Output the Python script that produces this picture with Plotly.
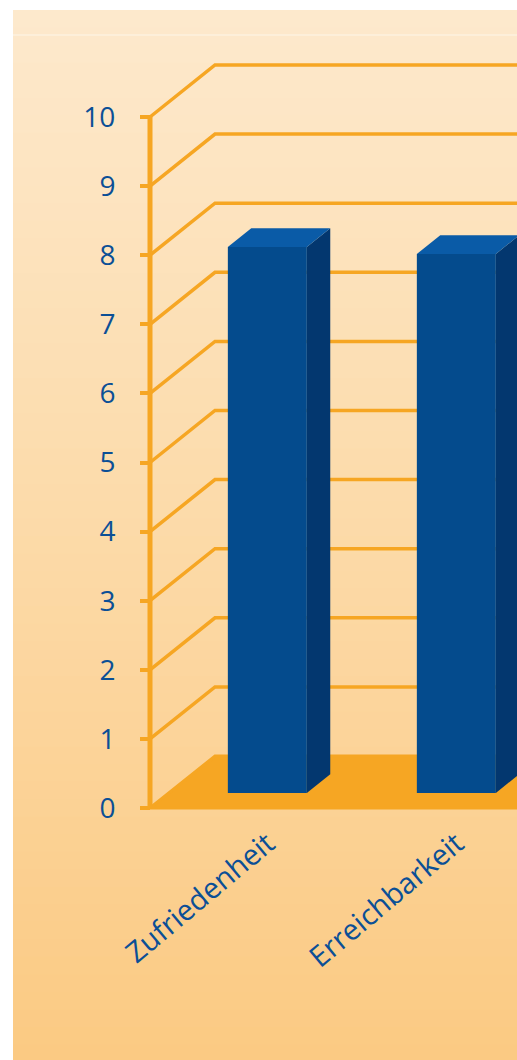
import plotly.graph_objects as go

# ---- data ----
categories = ["Zufriedenheit", "Erreichbarkeit"]
values = [7.9, 7.8]
y_ticks = list(range(0, 11))

# ---- style / geometry ----
FONT = "Open Sans"
BLUE_TXT = "#0b4f96"
ORANGE = "#f6a623"
FRONT = "#044b8d"
SIDE = "#03376f"
TOP = "#0a5ba7"

W, H = 517, 1060

px_per_x = 189.0
px_per_y = 69.1
ml, mt = 140, 40
mb = H - 820
axis_px = 150
zero_py = 808
cat0_px = 248.5

x_start = 0.5 - (cat0_px - ml) / px_per_x
x_end = x_start + (W - ml) / px_per_x
x0 = 0.5 - (cat0_px - axis_px) / px_per_x
y_top = (zero_py - mt) / px_per_y
y_bot = -((H - mb) - zero_py) / px_per_y
ddx = 65 / px_per_x
ddy = 52 / px_per_y
bw = 79 / px_per_x
f_front, f_back = 0.29, 0.65
positions = [0.5 + i for i in range(len(categories))]
xmax = x_end + 0.2

fig = go.Figure()

# floor
fig.add_trace(go.Scatter(
    x=[x0, x0 + ddx, xmax, xmax, x0],
    y=[0, ddy, ddy, 0, 0],
    fill="toself", fillcolor=ORANGE, mode="lines",
    line=dict(color=ORANGE, width=3), hoverinfo="skip", showlegend=False))

# back wall grid lines
gx, gy = [], []
for v in y_ticks[1:]:
    gx += [x0, x0 + ddx, xmax, None]
    gy += [v, v + ddy, v + ddy, None]
fig.add_trace(go.Scatter(x=gx, y=gy, mode="lines",
                         line=dict(color=ORANGE, width=3.5),
                         hoverinfo="skip", showlegend=False))

# vertical axis line
fig.add_trace(go.Scatter(x=[x0, x0], y=[y_ticks[0], y_ticks[-1]], mode="lines",
                         line=dict(color=ORANGE, width=5),
                         hoverinfo="skip", showlegend=False))

# 3D bars
for c, v in zip(positions, values):
    l = c - bw / 2
    r = c + bw / 2
    fx, fy = f_front * ddx, f_front * ddy
    bx, by = f_back * ddx, f_back * ddy
    fig.add_trace(go.Scatter(
        x=[r + fx, r + bx, r + bx, r + fx, r + fx],
        y=[fy, by, v + by, v + fy, fy],
        fill="toself", fillcolor=SIDE, mode="lines", line=dict(width=0, color=SIDE),
        hoverinfo="skip", showlegend=False))
    fig.add_trace(go.Scatter(
        x=[l + fx, r + fx, r + bx, l + bx, l + fx],
        y=[v + fy, v + fy, v + by, v + by, v + fy],
        fill="toself", fillcolor=TOP, mode="lines", line=dict(width=0, color=TOP),
        hoverinfo="skip", showlegend=False))
    fig.add_trace(go.Scatter(
        x=[l + fx, r + fx, r + fx, l + fx, l + fx],
        y=[fy, fy, v + fy, v + fy, fy],
        fill="toself", fillcolor=FRONT, mode="lines", line=dict(width=0, color=FRONT),
        hoverinfo="skip", showlegend=False))

# background gradient (paper coords)
def pxx(px):
    return (px - ml) / (W - ml)

def pxy(py):
    return ((H - mb) - py) / ((H - mb) - mt)

top_c = (253, 233, 204)
mid_c = (252, 218, 168)
bot_c = (251, 202, 131)
shapes = []
n = 60
y_a, y_b = 10, 1062
for i in range(n):
    t = i / (n - 1)
    if t < 0.5:
        k = t / 0.5
        col = tuple(round(top_c[j] + (mid_c[j] - top_c[j]) * k) for j in range(3))
    else:
        k = (t - 0.5) / 0.5
        col = tuple(round(mid_c[j] + (bot_c[j] - mid_c[j]) * k) for j in range(3))
    ya = y_a + (y_b - y_a) * i / n
    yb = y_a + (y_b - y_a) * (i + 1) / n + 1
    shapes.append(dict(type="rect", xref="paper", yref="paper", layer="below",
                       x0=pxx(13), x1=pxx(520), y0=pxy(ya), y1=pxy(min(yb, 1062)),
                       fillcolor="rgb(%d,%d,%d)" % col, line=dict(width=0)))
shapes.append(dict(type="line", xref="paper", yref="paper", layer="below",
                   x0=pxx(13), x1=pxx(520), y0=pxy(35), y1=pxy(35),
                   line=dict(color="rgba(255,255,255,0.6)", width=1)))

fig.update_layout(
    width=W, height=H,
    margin=dict(l=ml, r=0, t=mt, b=mb),
    paper_bgcolor="white", plot_bgcolor="rgba(0,0,0,0)",
    shapes=shapes,
    showlegend=False,
    font=dict(family=FONT, color=BLUE_TXT),
    xaxis=dict(range=[x_start, x_end], showgrid=False, zeroline=False, showline=False,
               tickmode="array",
               tickvals=[c + f_front * ddx for c in positions],
               ticktext=categories, tickangle=-40, ticks="",
               tickfont=dict(size=29, color=BLUE_TXT, family=FONT)),
    yaxis=dict(range=[y_bot, y_top], showgrid=False, zeroline=False, showline=False,
               anchor="free", position=(axis_px - ml) / (W - ml),
               tickmode="array", tickvals=y_ticks,
               ticktext=[str(t) for t in y_ticks],
               ticks="outside", ticklen=10, tickwidth=4, tickcolor=ORANGE,
               ticklabelstandoff=19,
               tickfont=dict(size=28, color=BLUE_TXT, family=FONT)),
)

fig.write_html("out.html",
               config={"displayModeBar": False},
               post_script="document.body.style.margin='0';"
                           "document.documentElement.style.overflow='hidden';"
                           "document.body.style.overflow='hidden';")
